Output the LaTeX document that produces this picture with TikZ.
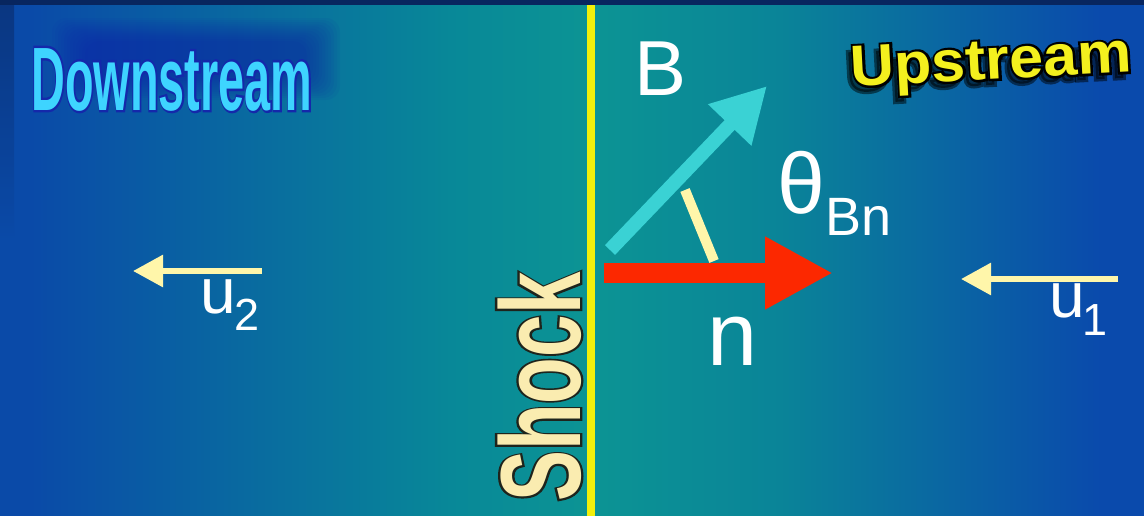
\documentclass[tikz,border=0pt]{standalone}
\usepackage{fontspec}
\setmainfont{Liberation Sans}
\newfontfamily\downedgefont[RawFeature={embolden=5.5}]{Liberation Sans Bold}
\newfontfamily\upedgefont[RawFeature={embolden=8}]{Liberation Sans Bold}
\newfontfamily\shockedgefont[RawFeature={embolden=4.2}]{Liberation Sans Bold}
\newfontfamily\heavyfont{Liberation Sans Bold}
\usepackage{graphicx}
\usetikzlibrary{arrows.meta}
\definecolor{bgblueL}{RGB}{10,74,168}
\definecolor{bgteal}{RGB}{8,136,152}
\definecolor{bgtealc}{RGB}{12,148,148}
\definecolor{bgtealr}{RGB}{10,132,152}
\definecolor{bgblueR}{RGB}{10,74,172}
\definecolor{topnavy}{RGB}{8,38,95}
\definecolor{leftdark}{RGB}{10,50,120}
\definecolor{shockyellow}{RGB}{242,240,10}
\definecolor{shocktext}{RGB}{250,236,176}
\definecolor{shockedge}{RGB}{30,36,28}
\definecolor{bcyan}{RGB}{58,210,212}
\definecolor{nred}{RGB}{252,40,0}
\definecolor{paleyellow}{RGB}{255,246,170}
\definecolor{downcyan}{RGB}{62,212,255}
\definecolor{downedge}{RGB}{20,40,170}
\definecolor{downshadow}{RGB}{15,30,170}
\definecolor{upyellow}{RGB}{244,240,30}
\begin{document}
\begin{tikzpicture}[x=1pt,y=-1pt,
  lbl/.style={text=white, inner sep=0pt, anchor=base},
  vec/.style={line cap=butt},
  uvec/.style={vec, paleyellow, line width=6pt, -{Triangle[length=30pt,width=31pt]}}]
\useasboundingbox (0,0) rectangle (1144,515);
% background
\fill[bgblueL] (-2,-2) rectangle (1146,517);
\shade[left color=bgblueL, right color=bgteal] (30,-2) rectangle (451,517);
\shade[left color=bgteal, right color=bgtealc] (450,-2) rectangle (591,517);
\shade[left color=bgtealc, right color=bgtealr] (590,-2) rectangle (781,517);
\shade[left color=bgtealr, right color=bgblueR] (780,-2) rectangle (1101,517);
\fill[bgblueR] (1100,-2) rectangle (1146,517);
\shade[top color=leftdark, bottom color=bgblueL, opacity=0.8] (-2,5) rectangle (14,240);
\fill[topnavy] (-2,-2) rectangle (1146,5);
% Downstream soft shadow
\foreach \i in {0,3,...,33}{
  \fill[downshadow, opacity=0.06, rounded corners=14pt] (52+\i,18+\i*0.7) rectangle (340-\i,100-\i*0.7);
}
% shock line
\fill[shockyellow] (587,5) rectangle (595,517);
% labels
\node[inner sep=0pt, anchor=base, text=downcyan] (down) at (172,110)
  {\scalebox{0.52}[1]{\fontsize{90}{100}\selectfont\rlap{\downedgefont\color{downedge}Downstream}\heavyfont Downstream}};
\node[inner sep=0pt, anchor=base, rotate=3, text=black, opacity=0.5] (upshadow) at (987,85)
  {\scalebox{1.05}[1]{\upedgefont\fontsize{58}{62}\selectfont Upstream}};
\node[inner sep=0pt, anchor=base, rotate=3, text=upyellow] (up) at (992,79)
  {\scalebox{1.05}[1]{\fontsize{58}{62}\selectfont\rlap{\upedgefont\color{black}Upstream}\heavyfont Upstream}};
\node[inner sep=0pt, anchor=base, rotate=90, text=shocktext] (shock) at (580,387)
  {\scalebox{0.67}[1]{\fontsize{114}{120}\selectfont\rlap{\shockedgefont\color{shockedge}Shock}\heavyfont Shock}};
% vectors
\coordinate (bstart) at (610,250);
\coordinate (btip) at (767,86);
\coordinate (nstart) at (604,273);
\coordinate (ntip) at (833,273);
\coordinate (angA) at (685,190);
\coordinate (angB) at (714,261);
\draw[vec, bcyan, line width=14pt, -{Triangle[length=54pt,width=56pt]}] (bstart) -- (btip);
\draw[vec, nred, line width=20pt, -{Triangle[length=68pt,width=68pt]}] (nstart) -- (ntip);
\draw[vec, paleyellow, line width=10pt] (angA) -- (angB);
\coordinate (u2start) at (262,271);
\coordinate (u2tip) at (133,271);
\coordinate (u1start) at (1118,279);
\coordinate (u1tip) at (961,279);
\draw[uvec] (u2start) -- (u2tip);
\draw[uvec] (u1start) -- (u1tip);
% text labels
\node[lbl, font=\fontsize{78}{80}\selectfont] (B) at (661,95) {B};
\node[lbl, font=\fontsize{86}{88}\selectfont] (theta) at (801,213) {θ};
\node[lbl, anchor=base west, font=\fontsize{54}{56}\selectfont] (Bn) at (825,235) {Bn};
\node[lbl, font=\fontsize{90}{92}\selectfont] (n) at (733,365) {n};
\node[lbl, font=\fontsize{64}{66}\selectfont] (u2) at (218,313) {u};
\node[lbl, font=\fontsize{45}{47}\selectfont] (u2sub) at (247,330) {2};
\node[lbl, font=\fontsize{64}{66}\selectfont] (u1) at (1067,317) {u};
\node[lbl, font=\fontsize{45}{47}\selectfont] (u1sub) at (1095,335) {1};
\end{tikzpicture}
\end{document}
